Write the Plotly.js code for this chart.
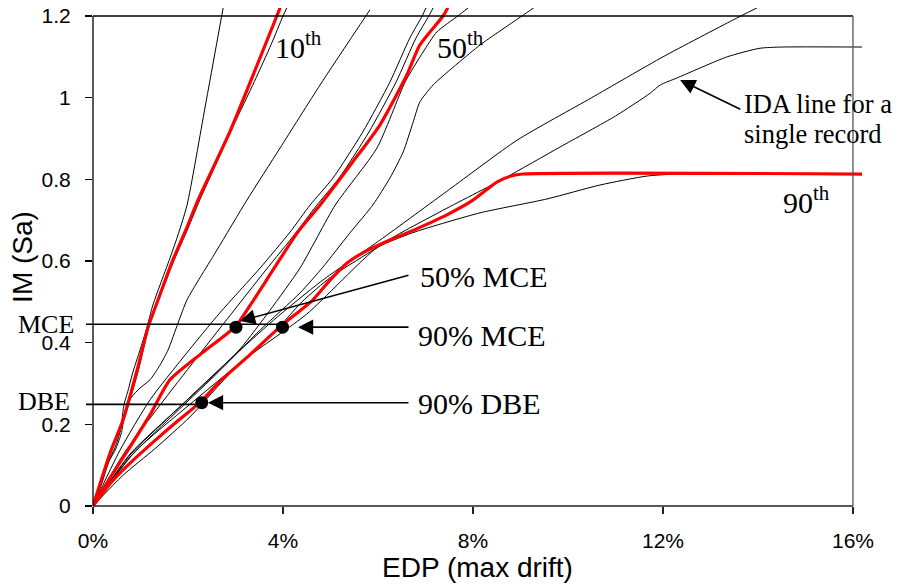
<!DOCTYPE html>
<html>
<head>
<meta charset="utf-8">
<script src="https://cdn.plot.ly/plotly-3.0.1.min.js"></script>
<style>
  html, body { margin: 0; padding: 0; background: #fff; }
  #chart { width: 901px; height: 584px; }
</style>
</head>
<body>
<div id="chart"></div>
<script>
// ---- Incremental dynamic analysis curves: drift (%) vs. spectral acceleration ----

// Individual record IDA curves (thin black)
const rec1Drift = [0, 0.15, 0.32, 0.46, 0.57, 0.61, 0.65, 0.74, 0.84, 0.99, 1.12, 1.26, 1.41, 1.62, 1.79, 1.98, 2.36, 2.74];
const rec1IM    = [0, 0.051, 0.108, 0.142, 0.181, 0.211, 0.247, 0.284, 0.328, 0.382, 0.431, 0.492, 0.541, 0.607, 0.664, 0.737, 0.977, 1.22];

const rec2Drift = [0, 0.34, 0.62, 0.95, 1.18, 1.4, 1.7, 2.0, 2.25, 2.6, 2.95, 3.4, 3.75, 4.0, 4.08];
const rec2IM    = [0, 0.12, 0.2, 0.33, 0.44, 0.51, 0.6, 0.68, 0.75, 0.84, 0.93, 1.04, 1.13, 1.2, 1.22];

const rec3Drift = [0, 0.17, 0.34, 0.48, 0.6, 0.68, 0.8, 0.99, 1.2, 1.41, 1.58, 1.79, 1.98, 2.61, 3.24, 3.94, 4.78, 5.83];
const rec3IM    = [0, 0.05, 0.11, 0.14, 0.18, 0.235, 0.265, 0.289, 0.309, 0.345, 0.382, 0.448, 0.505, 0.627, 0.749, 0.877, 1.031, 1.215];

const rec4Drift = [0, 0.57, 1.2, 1.94, 2.67, 3.52, 4.15, 4.57, 5.05, 5.68, 6.25, 6.67, 6.93, 7.01];
const rec4IM    = [0, 0.137, 0.26, 0.37, 0.473, 0.583, 0.671, 0.737, 0.803, 0.916, 1.038, 1.146, 1.2, 1.22];

const rec5Drift = [0, 0.67, 1.41, 2.15, 2.84, 3.64, 4.27, 4.7, 5.18, 5.81, 6.38, 6.8, 7.07, 7.16];
const rec5IM    = [0, 0.132, 0.247, 0.358, 0.46, 0.578, 0.669, 0.735, 0.803, 0.916, 1.038, 1.146, 1.2, 1.22];

const rec6Drift = [0, 0.78, 1.62, 2.36, 3.1, 3.73, 4.36, 5.1, 5.98, 6.57, 6.95, 7.24, 7.68, 7.9];
const rec6IM    = [0, 0.125, 0.22, 0.3, 0.385, 0.48, 0.583, 0.737, 0.877, 1.038, 1.112, 1.161, 1.2, 1.22];

const rec7Drift = [0, 0.78, 1.62, 2.57, 3.52, 4.36, 4.84, 5.41, 5.89, 6.25, 6.53, 6.74, 6.88, 7.16, 8.15, 9.03, 9.28];
const rec7IM    = [0, 0.12, 0.215, 0.32, 0.431, 0.522, 0.585, 0.669, 0.737, 0.803, 0.867, 0.94, 0.989, 1.031, 1.129, 1.2, 1.22];

const rec8Drift = [0, 0.8, 1.8, 2.8, 3.8, 4.8, 6.04, 7.5, 8.93, 10.5, 12.0, 13.47, 13.98];
const rec8IM    = [0, 0.13, 0.24, 0.35, 0.455, 0.55, 0.651, 0.775, 0.896, 1.0, 1.1, 1.19, 1.22];

const rec9Drift = [0, 0.63, 1.3, 2.04, 2.95, 3.7, 4.4, 5.0, 5.6, 6.1, 6.8, 8.15, 9.56, 10.67, 11.66, 12.3, 16.19];
const rec9IM    = [0, 0.075, 0.14, 0.218, 0.333, 0.41, 0.5, 0.56, 0.605, 0.64, 0.672, 0.718, 0.752, 0.786, 0.808, 0.813, 0.813];

const rec10Drift = [0, 0.9, 2.0, 3.2, 4.5, 6.0, 7.3, 8.67, 9.83, 11.0, 11.73, 11.94, 12.29, 13.35, 14.04, 14.5, 16.19];
const rec10IM    = [0, 0.135, 0.245, 0.36, 0.47, 0.635, 0.72, 0.803, 0.879, 0.955, 1.011, 1.031, 1.048, 1.1, 1.121, 1.124, 1.124];

// Fractile curves (thick red)
const p10Drift = [0, 0.36, 0.63, 0.93, 1.16, 1.37, 1.68, 1.98, 2.21, 2.88, 3.87, 3.94];
const p10IM    = [0, 0.13, 0.21, 0.333, 0.438, 0.505, 0.602, 0.683, 0.749, 0.916, 1.2, 1.22];

const p50Drift = [0, 0.36, 0.78, 1.2, 1.62, 2.3, 3.0, 3.3, 3.79, 4.3, 4.78, 5.47, 6.04, 6.61, 6.88, 7.37, 7.47];
const p50IM    = [0, 0.069, 0.145, 0.223, 0.309, 0.375, 0.44, 0.49, 0.578, 0.669, 0.737, 0.843, 0.933, 1.056, 1.129, 1.2, 1.22];

const p90Drift = [0, 0.4, 0.78, 1.35, 1.8, 2.25, 2.67, 3.3, 3.93, 4.63, 4.99, 5.35, 5.68, 6.11, 6.8, 7.45, 8.0, 8.51, 8.8, 9.05, 16.19];
const p90IM    = [0, 0.06, 0.105, 0.165, 0.21, 0.253, 0.305, 0.37, 0.438, 0.505, 0.553, 0.595, 0.62, 0.644, 0.678, 0.713, 0.749, 0.794, 0.808, 0.813, 0.813];

// Demand points picked off the fractile curves
const pointNames = ['50% MCE', '90% MCE', '90% DBE'];
const pointDrift = [3.01, 3.99, 2.29];
const pointIM    = [0.438, 0.438, 0.253];

// Hazard levels (horizontal reference lines)
const hazardNames   = ['MCE', 'DBE'];
const hazardIM      = [0.445, 0.249];
const hazardToDrift = [3.99, 2.29];

// Axis ticks
const xTickVals = [0, 4, 8, 12, 16];
const xTickText = ['0%', '4%', '8%', '12%', '16%'];
const yTickVals = [0, 0.2, 0.4, 0.6, 0.8, 1.0, 1.2];
const yTickText = ['0', '0.2', '0.4', '0.6', '0.8', '1', '1.2'];

// ---- Frame geometry ----
const X_FRAME = 16, Y_FRAME = 1.2;
const X_MAX = 16.19, Y_MAX = 1.2196;          // plot area runs slightly past the frame
const PLOT_W = 901 - 93 - 39;
const xp = v => v / X_MAX;
const yp = v => v / Y_MAX;

const SANS = '"Liberation Sans", Arial, sans-serif';
const SERIF = '"Liberation Serif", "Times New Roman", serif';

const records = [
  [rec1Drift, rec1IM], [rec2Drift, rec2IM], [rec3Drift, rec3IM], [rec4Drift, rec4IM],
  [rec5Drift, rec5IM], [rec6Drift, rec6IM], [rec7Drift, rec7IM], [rec8Drift, rec8IM],
  [rec9Drift, rec9IM], [rec10Drift, rec10IM]
];
const fractiles = [[p10Drift, p10IM], [p50Drift, p50IM], [p90Drift, p90IM]];

const traces = [];
records.forEach(([x, y]) => traces.push({
  x, y, type: 'scatter', mode: 'lines', hoverinfo: 'skip',
  line: { color: '#000', width: 1, shape: 'spline', smoothing: 0.6 }
}));
fractiles.forEach(([x, y]) => traces.push({
  x, y, type: 'scatter', mode: 'lines', hoverinfo: 'skip',
  line: { color: '#ff0000', width: 3.2, shape: 'spline', smoothing: 0.6 }
}));
traces.push({
  x: pointDrift, y: pointIM, type: 'scatter', mode: 'markers', hoverinfo: 'skip',
  marker: { color: '#000', size: 13 }
});

const shapes = [];
const frameLine = (x0, y0, x1, y1, color) => ({
  type: 'line', xref: 'paper', yref: 'paper', x0, y0, x1, y1,
  line: { color, width: 1.3 }
});
shapes.push(frameLine(0, 0, 0, yp(Y_FRAME), '#000'));                       // left
shapes.push(frameLine(0, 0, xp(X_FRAME), 0, '#222'));                       // bottom
shapes.push(frameLine(0, yp(Y_FRAME), xp(X_FRAME), yp(Y_FRAME), '#000'));   // top
shapes.push(frameLine(xp(X_FRAME), 0, xp(X_FRAME), yp(Y_FRAME), '#555'));   // right
hazardIM.forEach((lvl, i) => shapes.push({
  type: 'line', xref: 'paper', yref: 'paper',
  x0: -7 / PLOT_W, x1: xp(hazardToDrift[i]), y0: yp(lvl), y1: yp(lvl),
  line: { color: '#000', width: 1.6 }
}));

const arrow = (tipX, tipY, tailX, tailY) => ({
  x: tipX, y: tipY, ax: tailX, ay: tailY, xref: 'x', yref: 'y', axref: 'x', ayref: 'y',
  text: '', showarrow: true, arrowhead: 2, arrowsize: 1.9, arrowwidth: 1.6, arrowcolor: '#000'
});
const label = (text, x, y, size) => ({
  x, y, xref: 'x', yref: 'y', text, showarrow: false, xanchor: 'left', yanchor: 'middle',
  font: { family: SERIF, size, color: '#000' }
});
// hazard names sit left of the y axis, so they are placed in paper units
const sideLabel = (text, y) => ({
  x: -77 / PLOT_W, y: yp(y), xref: 'paper', yref: 'paper', text, showarrow: false,
  xanchor: 'left', yanchor: 'middle', font: { family: SERIF, size: 26, color: '#000' }
});

const annotations = [
  arrow(3.095, 0.453, 6.674, 0.566),
  arrow(4.316, 0.438, 6.674, 0.438),
  arrow(2.42, 0.253, 6.674, 0.253),
  arrow(12.36, 1.043, 13.66, 0.97),
  label(pointNames[0], 6.84, 0.563, 30),
  label(pointNames[1], 6.8, 0.418, 30),
  label(pointNames[2], 6.8, 0.252, 30),
  label('10<sup>th</sup>', 3.78, 1.13, 30),
  label('50<sup>th</sup>', 7.2, 1.13, 30),
  label('90<sup>th</sup>', 14.48, 0.75, 30),
  label('IDA line for a', 13.67, 0.984, 26.5),
  label('single record', 13.67, 0.91, 26.5),
  sideLabel(hazardNames[0], 0.445),
  sideLabel(hazardNames[1], 0.255)
];

const layout = {
  width: 901, height: 584,
  margin: { l: 93, r: 39, t: 8, b: 78, pad: 0 },
  paper_bgcolor: '#fff', plot_bgcolor: '#fff',
  showlegend: false, hovermode: false,
  font: { family: SANS, color: '#000' },
  xaxis: {
    range: [0, X_MAX], tickvals: xTickVals, ticktext: xTickText,
    ticks: 'outside', ticklen: 7, tickwidth: 1.3, tickcolor: '#222',
    showline: false, showgrid: false, zeroline: false,
    tickfont: { family: SANS, size: 21, color: '#000' }, ticklabelstandoff: 9,
    title: { text: 'EDP (max drift)', font: { family: SANS, size: 28, color: '#000' }, standoff: 0 }
  },
  yaxis: {
    range: [0, Y_MAX], tickvals: yTickVals, ticktext: yTickText,
    ticks: 'outside', ticklen: 7, tickwidth: 1.3, tickcolor: '#000',
    showline: false, showgrid: false, zeroline: false,
    tickfont: { family: SANS, size: 21, color: '#000' }, ticklabelstandoff: 10,
    title: { text: 'IM (Sa)', font: { family: SANS, size: 28, color: '#000' }, standoff: 0 }
  },
  shapes, annotations
};

Plotly.newPlot('chart', traces, layout, { displayModeBar: false, staticPlot: true });
</script>
</body>
</html>
